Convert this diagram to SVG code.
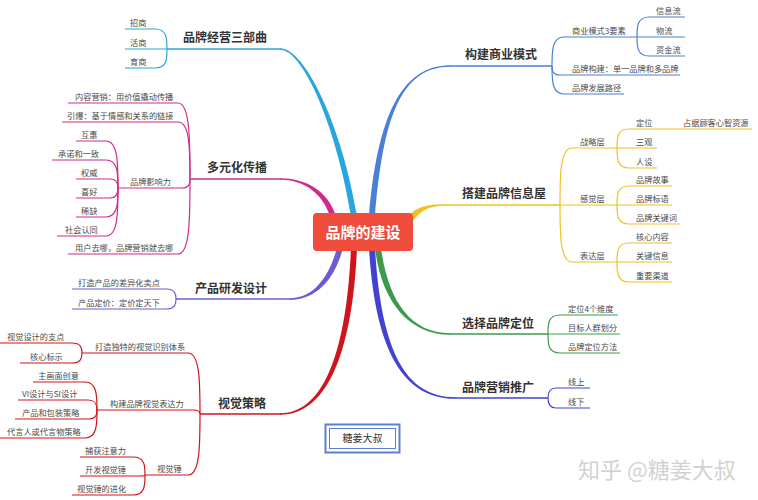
<svg xmlns="http://www.w3.org/2000/svg" width="758" height="500" viewBox="0 0 758 500">
<style>
.t{font-family:"Noto Sans CJK SC","Noto Sans",sans-serif;font-size:8.2px;fill:#4a4a4a}
.m{font-family:"Noto Sans CJK SC","Noto Sans",sans-serif;font-size:12px;font-weight:bold;fill:#333}
.l{fill:none;stroke-width:1.2}
.h{fill:none;stroke-width:1.6}
.c1{stroke:#29A6E0}.f1{fill:#29A6E0}
.c2{stroke:#CF2A8C}.f2{fill:#CF2A8C}
.c3{stroke:#6C5CD2}.f3{fill:#6C5CD2}
.c4{stroke:#D0141C}.f4{fill:#D0141C}
.c5{stroke:#4A80D6}.f5{fill:#4A80D6}
.c6{stroke:#F0C024}.f6{fill:#F0C024}
.c7{stroke:#3C9B4B}.f7{fill:#3C9B4B}
.c8{stroke:#4242D2}.f8{fill:#4242D2}
</style>
<rect width="758" height="500" fill="#fff"/>
<g id="connectors">
<path class="f1" d="M351,216 C337,130 304,49.8 280,49.8 L280,48.2 C306,48.2 343,130 357,216 Z"/>
<path class="f2" d="M330,216 C322,193 304,179.8 280,179.8 L280,178.2 C306,178.2 328,191 336,216 Z"/>
<path class="f3" d="M343,248 C333,286 311,299.8 290,299.8 L290,298.2 C309,298.2 327,284 337,248 Z"/>
<path class="f4" d="M357,248 C353,340 332,414.8 280,414.8 L280,413.2 C328,413.2 347,340 351,248 Z"/>
<path class="f5" d="M369,216 C377,120 400,65.2 450,65.2 L450,66.8 C400,66.8 383,120 375,216 Z"/>
<path class="f6" d="M402,224 C413,207 425,204.2 445,204.2 L445,205.8 C427,205.8 418,212 408,228 Z"/>
<path class="f7" d="M381,248 C388,300 410,333.2 450,333.2 L450,334.8 C408,334.8 381,300 375,248 Z"/>
<path class="f8" d="M375,248 C381,350 405,397.2 455,397.2 L455,398.8 C403,398.8 375,350 369,248 Z"/>
<path class="h c1" d="M281,49 H167"/>
<path class="h c2" d="M281,179 H190"/>
<path class="h c3" d="M291,299 H176"/>
<path class="h c4" d="M281,414 H200"/>
<path class="h c5" d="M449,66 H552"/>
<path class="h c6" d="M444,205 H560"/>
<path class="h c7" d="M449,334 H548"/>
<path class="h c8" d="M454,398 H548"/>
<path class="l c1" d="M167,49 C167,39 167,29 155,29 H125"/>
<path class="l c1" d="M167,49 H125"/>
<path class="l c1" d="M167,49 C167,59 167,68 155,68 H125"/>
<path class="l c2" d="M190,179 C190,141 190,103 178,103 H68"/>
<path class="l c2" d="M190,179 C190,150 190,122 178,122 H62"/>
<path class="l c2" d="M190,179 C190,184 189,188 182,188 H118"/>
<path class="l c2" d="M190,179 C190,217 190,254 178,254 H68"/>
<path class="l c2" d="M118,188 C118,164 118,141 106,141 H76"/>
<path class="l c2" d="M118,188 C118,174 118,160 106,160 H52"/>
<path class="l c2" d="M118,188 C118,184 117,179 110,179 H76"/>
<path class="l c2" d="M118,188 C118,193 117,198 110,198 H76"/>
<path class="l c2" d="M118,188 C118,202 118,217 106,217 H76"/>
<path class="l c2" d="M118,188 C118,212 118,236 106,236 H57"/>
<path class="l c3" d="M176,299 C176,294 175,289 166,289 H72"/>
<path class="l c3" d="M176,299 C176,304 175,309 166,309 H72"/>
<path class="l c4" d="M200,414 C200,383 200,353 188,353 H82"/>
<path class="l c4" d="M200,414 C200,412 199,410 193,410 H97"/>
<path class="l c4" d="M200,414 C200,445 200,475 188,475 H145"/>
<path class="l c4" d="M82,353 C82,348 81,343 72,343 H0"/>
<path class="l c4" d="M82,353 C82,358 81,363 72,363 H20"/>
<path class="l c4" d="M97,410 C97,396 97,382 85,382 H33"/>
<path class="l c4" d="M97,410 C97,405 96,400 88,400 H18"/>
<path class="l c4" d="M97,410 C97,415 96,419 88,419 H15"/>
<path class="l c4" d="M97,410 C97,424 97,438 85,438 H0"/>
<path class="l c4" d="M145,475 C145,466 145,457 133,457 H80"/>
<path class="l c4" d="M145,475 C145,476 144,476 140,476 H80"/>
<path class="l c4" d="M145,475 C145,485 145,495 133,495 H72"/>
<path class="l c5" d="M552,66 C552,51 552,37 564,37 H637"/>
<path class="l c5" d="M552,66 C552,71 553,75 560,75 H680"/>
<path class="l c5" d="M552,66 C552,80 552,94 564,94 H624"/>
<path class="l c5" d="M637,37 C637,27 637,17 649,17 H685"/>
<path class="l c5" d="M637,37 H685"/>
<path class="l c5" d="M637,37 C637,46 637,56 649,56 H685"/>
<path class="l c6" d="M560,205 C560,176 560,148 572,148 H617"/>
<path class="l c6" d="M560,205 H617"/>
<path class="l c6" d="M560,205 C560,233 560,262 572,262 H617"/>
<path class="l c6" d="M617,148 C617,138 617,129 629,129 H680"/>
<path class="l c6" d="M680,129 H752"/>
<path class="l c6" d="M617,148 H657"/>
<path class="l c6" d="M617,148 C617,158 617,168 629,168 H657"/>
<path class="l c6" d="M617,205 C617,195 617,186 629,186 H672"/>
<path class="l c6" d="M617,205 H672"/>
<path class="l c6" d="M617,205 C617,215 617,224 629,224 H680"/>
<path class="l c6" d="M617,262 C617,252 617,243 629,243 H672"/>
<path class="l c6" d="M617,262 H672"/>
<path class="l c6" d="M617,262 C617,272 617,282 629,282 H672"/>
<path class="l c7" d="M548,334 C548,324 548,315 560,315 H618"/>
<path class="l c7" d="M548,334 H620"/>
<path class="l c7" d="M548,334 C548,344 548,353 560,353 H620"/>
<path class="l c8" d="M548,398 C548,393 549,388 556,388 H590"/>
<path class="l c8" d="M548,398 C548,403 549,408 556,408 H590"/>
</g>
<g id="root">
<rect x="313" y="213" width="100" height="38" rx="4" fill="#F04C3C"/>
<text x="363" y="237.5" text-anchor="middle" font-family="Noto Sans CJK SC, Noto Sans, sans-serif" font-size="15" font-weight="bold" fill="#fff">品牌的建设</text>
</g>
<g id="n-sanbuqu"><text class="m" x="183" y="42">品牌经营三部曲</text></g>
<g id="n-zhaoshang"><text class="t" x="130" y="26">招商</text></g>
<g id="n-huoshang"><text class="t" x="130" y="46">活商</text></g>
<g id="n-yushang"><text class="t" x="130" y="65">育商</text></g>
<g id="n-duoyuan"><text class="m" x="207" y="172">多元化传播</text></g>
<g id="n-neirong"><text class="t" x="75" y="99.5">内容营销：用价值撬动传播</text></g>
<g id="n-yinbao"><text class="t" x="67" y="118.5">引爆：基于情感和关系的链接</text></g>
<g id="n-yingxiangli"><text class="t" x="130" y="184.5">品牌影响力</text></g>
<g id="n-huhui"><text class="t" x="81" y="137.5">互惠</text></g>
<g id="n-chengnuo"><text class="t" x="58" y="156.5">承诺和一致</text></g>
<g id="n-quanwei"><text class="t" x="81" y="175.5">权威</text></g>
<g id="n-xihao"><text class="t" x="81" y="194.5">喜好</text></g>
<g id="n-xique"><text class="t" x="81" y="213.5">稀缺</text></g>
<g id="n-shehui"><text class="t" x="65" y="232.5">社会认同</text></g>
<g id="n-yonghu"><text class="t" x="75" y="250.5">用户去哪，品牌营销就去哪</text></g>
<g id="n-chanpin"><text class="m" x="195" y="293">产品研发设计</text></g>
<g id="n-chayihua"><text class="t" x="78" y="285.5">打造产品的差异化卖点</text></g>
<g id="n-dingjia"><text class="t" x="78" y="305.5">产品定价：定价定天下</text></g>
<g id="n-shijue"><text class="m" x="218" y="408">视觉策略</text></g>
<g id="n-dudte"><text class="t" x="95" y="349.5">打造独特的视觉识别体系</text></g>
<g id="n-zhidian"><text class="t" x="7" y="339.5">视觉设计的支点</text></g>
<g id="n-hexin"><text class="t" x="30" y="359.5">核心标示</text></g>
<g id="n-biaodali"><text class="t" x="110" y="406.5">构建品牌视觉表达力</text></g>
<g id="n-zhuhuamian"><text class="t" x="38" y="378.5">主画面创意</text></g>
<g id="n-vi"><text class="t" x="22" y="396.5">VI设计与SI设计</text></g>
<g id="n-baozhuang"><text class="t" x="22" y="415.5">产品和包装策略</text></g>
<g id="n-daiyan"><text class="t" x="7" y="434.5">代言人或代言物策略</text></g>
<g id="n-shijuechui"><text class="t" x="157" y="471.5">视觉锤</text></g>
<g id="n-buhuo"><text class="t" x="85" y="453.5">捕获注意力</text></g>
<g id="n-kaifa"><text class="t" x="85" y="472.5">开发视觉锤</text></g>
<g id="n-jinhua"><text class="t" x="77" y="491.5">视觉锤的进化</text></g>
<g id="n-shangye"><text class="m" x="465" y="59">构建商业模式</text></g>
<g id="n-sanyaosu"><text class="t" x="572" y="33.5">商业模式3要素</text></g>
<g id="n-xinxi"><text class="t" x="656" y="13.5">信息流</text></g>
<g id="n-wuliu"><text class="t" x="656" y="33.5">物流</text></g>
<g id="n-zijin"><text class="t" x="656" y="52.5">资金流</text></g>
<g id="n-goujian"><text class="t" x="572" y="71.5">品牌构建：单一品牌和多品牌</text></g>
<g id="n-lujing"><text class="t" x="572" y="90.5">品牌发展路径</text></g>
<g id="n-xinxiwu"><text class="m" x="462" y="198">搭建品牌信息屋</text></g>
<g id="n-zhanlue"><text class="t" x="580" y="144.5">战略层</text></g>
<g id="n-dingwei"><text class="t" x="636" y="125.5">定位</text></g>
<g id="n-zhanju"><text class="t" x="683" y="125.5">占据顾客心智资源</text></g>
<g id="n-sanguan"><text class="t" x="636" y="144.5">三观</text></g>
<g id="n-renshe"><text class="t" x="636" y="164.5">人设</text></g>
<g id="n-ganjue"><text class="t" x="580" y="201.5">感觉层</text></g>
<g id="n-gushi"><text class="t" x="636" y="182.5">品牌故事</text></g>
<g id="n-biaoyu"><text class="t" x="636" y="201.5">品牌标语</text></g>
<g id="n-guanjianci"><text class="t" x="636" y="220.5">品牌关键词</text></g>
<g id="n-biaoda"><text class="t" x="580" y="258.5">表达层</text></g>
<g id="n-hexinneirong"><text class="t" x="636" y="239.5">核心内容</text></g>
<g id="n-guanjianxinxi"><text class="t" x="636" y="258.5">关键信息</text></g>
<g id="n-qudao"><text class="t" x="636" y="278.5">重要渠道</text></g>
<g id="n-xuanze"><text class="m" x="462" y="328">选择品牌定位</text></g>
<g id="n-weidu"><text class="t" x="568" y="311.5">定位4个维度</text></g>
<g id="n-renqun"><text class="t" x="568" y="330.5">目标人群划分</text></g>
<g id="n-fangfa"><text class="t" x="568" y="349.5">品牌定位方法</text></g>
<g id="n-tuiguang"><text class="m" x="462" y="392">品牌营销推广</text></g>
<g id="n-xianshang"><text class="t" x="568" y="384.5">线上</text></g>
<g id="n-xianxia"><text class="t" x="568" y="404.5">线下</text></g>
<g id="label-box">
<rect x="325.5" y="424.5" width="74" height="28" fill="#fff" stroke="#5B80D2" stroke-width="2"/>
<rect x="329.5" y="428.5" width="66" height="20" fill="none" stroke="#5B80D2" stroke-width="1"/>
<text x="362.5" y="442" text-anchor="middle" font-family="Noto Sans CJK SC, Noto Sans, sans-serif" font-size="10" fill="#333">糖姜大叔</text>
</g>
<g id="watermark">
<text x="578" y="478" font-family="Noto Sans CJK SC, Noto Sans, sans-serif" font-size="22" fill="#d2d2d2">知乎 @糖姜大叔</text>
</g>
</svg>
